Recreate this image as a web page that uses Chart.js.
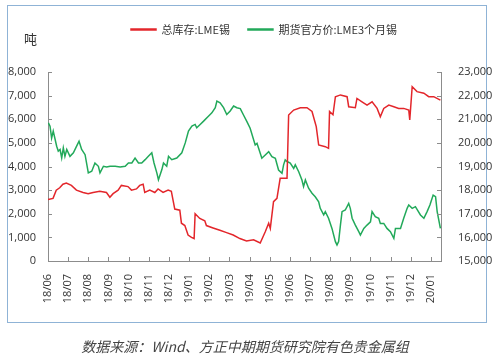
<!DOCTYPE html>
<html>
<head>
<meta charset="utf-8">
<script src="https://cdn.jsdelivr.net/npm/chart.js@4.4.1/dist/chart.umd.min.js"></script>
<style>
    html, body { margin: 0; padding: 0; background: #fff; }
    #wrap { position: relative; width: 500px; height: 364px; }
    #frame { position: absolute; left: 7px; top: 5px; width: 478px; height: 316px; border: 1.5px solid #8fb3d6; }
    #unit { position: absolute; left: 24px; top: 29px; font: 13px "Noto Sans CJK SC"; color: #333; }
    #source { position: absolute; left: 0; width: 490px; top: 336px; text-align: center; font: italic 14px "Noto Sans CJK SC"; color: #444; }
    canvas { position: absolute; left: 0; top: 0; }
</style>
</head>
<body>
<div id="wrap">
    <div id="frame"></div>
    <canvas id="tinChart" width="500" height="364"></canvas>
    <div id="unit">吨</div>
    <div id="source">数据来源：Wind、方正中期期货研究院有色贵金属组</div>
</div>
<script>
// x 轴: 0 = 18/06, 1 = 18/07 ...
const monthLabels = ['18/06', '18/07', '18/08', '18/09', '18/10', '18/11', '18/12', '19/01', '19/02', '19/03',
    '19/04', '19/05', '19/06', '19/07', '19/08', '19/09', '19/10', '19/11', '19/12', '20/01'];

// 总库存:LME锡 (吨, 左轴)
const stockMonths = [0.00, 0.25, 0.41, 0.58, 0.74, 0.91, 1.16, 1.41, 1.74, 1.99, 2.24, 2.57, 2.90, 3.07, 3.23, 3.48,
    3.64, 3.97, 4.14, 4.39, 4.55, 4.72, 4.80, 5.05, 5.30, 5.46, 5.71, 5.96, 6.12, 6.29, 6.54, 6.62, 6.79, 6.95,
    7.12, 7.25, 7.30, 7.53, 7.78, 7.86, 8.19, 8.53, 8.86, 9.19, 9.52, 9.85, 10.20, 10.53, 10.78, 10.95, 11.03,
    11.19, 11.36, 11.52, 11.86, 11.94, 12.19, 12.52, 12.85, 13.10, 13.31, 13.43, 13.76, 13.92, 13.97, 14.14,
    14.26, 14.51, 14.84, 14.92, 15.25, 15.33, 15.58, 15.83, 16.08, 16.33, 16.49, 16.66, 16.91, 17.16, 17.40,
    17.65, 17.90, 17.95, 18.07, 18.31, 18.65, 18.89, 19.14, 19.47];
const stockValues = [2600, 2650, 3000, 3100, 3250, 3300, 3200, 3000, 2900, 2850, 2900, 2950, 2900, 2700, 2850, 3000,
    3200, 3150, 3000, 3050, 3200, 3250, 2900, 3000, 2900, 3050, 2900, 3000, 2950, 2200, 2150, 1600, 1500, 1100,
    1000, 950, 2000, 1800, 1700, 1500, 1400, 1300, 1200, 1100, 950, 850, 900, 760, 1240, 1595, 1380,
    2510, 2650, 3500, 3500, 6180, 6390, 6490, 6490, 6330, 5690, 4910, 4840, 4770, 6330, 6190,
    6955, 7030, 6955, 6530, 6490, 6880, 6740, 6600, 6740, 6460, 6110, 6460, 6600, 6530, 6460,
    6460, 6390, 5970, 7380, 7170, 7100, 6955, 6955, 6810];

// 期货官方价:LME3个月锡 (右轴)
const priceMonths = [0.02, 0.10, 0.18, 0.26, 0.43, 0.51, 0.60, 0.68, 0.76, 0.84, 0.93, 1.09, 1.26, 1.42, 1.54, 1.67,
    1.84, 2.00, 2.17, 2.33, 2.50, 2.58, 2.75, 2.91, 3.08, 3.33, 3.58, 3.83, 3.99, 4.16, 4.32, 4.49, 4.65, 4.82,
    4.98, 5.15, 5.26, 5.40, 5.48, 5.65, 5.73, 5.89, 5.98, 6.14, 6.39, 6.64, 6.81, 6.97, 7.14, 7.30, 7.38, 7.55,
    7.72, 7.96, 8.13, 8.30, 8.38, 8.54, 8.71, 8.87, 9.04, 9.21, 9.37, 9.54, 9.70, 9.87, 10.03, 10.28, 10.37,
    10.45, 10.61, 10.78, 10.95, 11.11, 11.28, 11.44, 11.61, 11.69, 11.77, 11.86, 12.02, 12.19, 12.27, 12.44,
    12.60, 12.68, 12.77, 12.93, 13.10, 13.26, 13.43, 13.51, 13.68, 13.76, 13.92, 14.09, 14.26, 14.34, 14.42,
    14.51, 14.59, 14.75, 14.92, 15.00, 15.09, 15.25, 15.42, 15.50, 15.67, 15.83, 16.00, 16.08, 16.24, 16.41,
    16.49, 16.66, 16.82, 16.99, 17.16, 17.24, 17.49, 17.65, 17.82, 17.90, 18.07, 18.23, 18.48, 18.65, 18.81,
    18.95, 19.11, 19.23, 19.31, 19.47];
const priceValues = [20850, 20710, 20200, 20500, 19860, 19650, 19720, 19360, 19790, 19430, 19720, 19430, 19580, 19860, 20070, 19720,
    19500, 18730, 18800, 19150, 19010, 18730, 19010, 18980, 19010, 19010, 18980, 19010, 19150, 19150, 19360, 19150, 19150, 19290,
    19430, 19580, 19150, 18730, 18440, 18870, 19150, 19010, 19430, 19290, 19360, 19580, 20000, 20500, 20710, 20780, 20640, 20780,
    20920, 21130, 21270, 21490, 21770, 21700, 21490, 21200, 21350, 21560, 21490, 21450, 21180, 20900, 20620, 19910, 19980,
    19770, 19350, 19490, 19630, 19420, 19350, 18850, 18710, 19070, 19280, 19210, 19140, 18920, 19070, 18780,
    18430, 18150, 18430, 18080, 17870, 17720, 17510, 17230, 16950, 17090, 16810, 16380, 15820, 15680, 15820,
    16520, 17090, 17160, 17440, 17230, 16810, 16520, 16240, 16100, 16380, 16520, 16660, 17090, 16880, 16810,
    16590, 16590, 16380, 16240, 15960, 16380, 16380, 16810, 17230, 17370, 17230, 17300, 16950, 16810, 17090,
    17370, 17790, 17720, 17090, 16380];

const toPoints = (xs, ys) => xs.map((x, i) => ({ x: x, y: ys[i] }));

// 图例: 往右挪一点, 并且和绘图区之间留出空白
const legendPlace = {
    id: 'legendPlace',
    beforeInit(chart) {
        const fit = chart.legend.fit;
        chart.legend.fit = function () {
            fit.call(this);
            this.height = 66;
        };
    },
    afterLayout(chart) {
        chart.legend.left += 14;
        chart.legend.right += 14;
    }
};

// 内向刻度线
const innerTicks = {
    id: 'innerTicks',
    afterDraw(chart) {
        const ctx = chart.ctx;
        const area = chart.chartArea;
        ctx.save();
        ctx.strokeStyle = '#8c8c8c';
        ctx.lineWidth = 1;
        ctx.beginPath();
        chart.scales.x.ticks.forEach(t => {
            const px = Math.round(chart.scales.x.getPixelForValue(t.value)) + 0.5;
            ctx.moveTo(px, area.bottom);
            ctx.lineTo(px, area.bottom - 4);
        });
        chart.scales.y.ticks.forEach(t => {
            const py = Math.round(chart.scales.y.getPixelForValue(t.value)) + 0.5;
            ctx.moveTo(area.left, py);
            ctx.lineTo(area.left + 4, py);
        });
        chart.scales.y1.ticks.forEach(t => {
            const py = Math.round(chart.scales.y1.getPixelForValue(t.value)) + 0.5;
            ctx.moveTo(area.right, py);
            ctx.lineTo(area.right - 4, py);
        });
        ctx.stroke();
        ctx.restore();
    }
};

const tickFont = { family: 'Open Sans', size: 11 };

new Chart(document.getElementById('tinChart'), {
    type: 'line',
    data: {
        datasets: [
            {
                label: '总库存:LME锡',
                data: toPoints(stockMonths, stockValues),
                borderColor: '#e3262b',
                backgroundColor: '#e3262b',
                borderWidth: 1.5,
                pointRadius: 0,
                tension: 0,
                yAxisID: 'y'
            },
            {
                label: '期货官方价:LME3个月锡',
                data: toPoints(priceMonths, priceValues),
                borderColor: '#22a95a',
                backgroundColor: '#22a95a',
                borderWidth: 1.5,
                pointRadius: 0,
                tension: 0,
                yAxisID: 'y1'
            }
        ]
    },
    options: {
        responsive: false,
        animation: false,
        layout: { padding: { left: 0, right: 0, top: 6, bottom: 0 } },
        plugins: {
            tooltip: { enabled: false },
            legend: {
                position: 'top',
                labels: {
                    boxWidth: 25,
                    boxHeight: 1,
                    padding: 18,
                    color: '#333',
                    font: { family: 'Noto Sans CJK SC', size: 11 }
                }
            }
        },
        scales: {
            x: {
                type: 'linear',
                min: 0,
                max: 19.5,
                afterFit: s => { s.height = 103; },
                grid: { display: false },
                border: { color: '#8c8c8c' },
                ticks: {
                    stepSize: 1,
                    includeBounds: false,
                    autoSkip: false,
                    maxRotation: 90,
                    minRotation: 90,
                    padding: 5,
                    color: '#333',
                    font: tickFont,
                    callback: v => monthLabels[v]
                }
            },
            y: {
                position: 'left',
                min: 0,
                max: 8000,
                afterFit: s => { s.width = 48; },
                grid: { display: false },
                border: { color: '#8c8c8c' },
                ticks: { stepSize: 1000, padding: 4, color: '#333', font: tickFont }
            },
            y1: {
                position: 'right',
                min: 15000,
                max: 23000,
                afterFit: s => { s.width = 59; },
                grid: { display: false },
                border: { color: '#8c8c8c' },
                ticks: { stepSize: 1000, padding: 9, color: '#333', font: tickFont }
            }
        }
    },
    plugins: [legendPlace, innerTicks]
});
</script>
</body>
</html>
